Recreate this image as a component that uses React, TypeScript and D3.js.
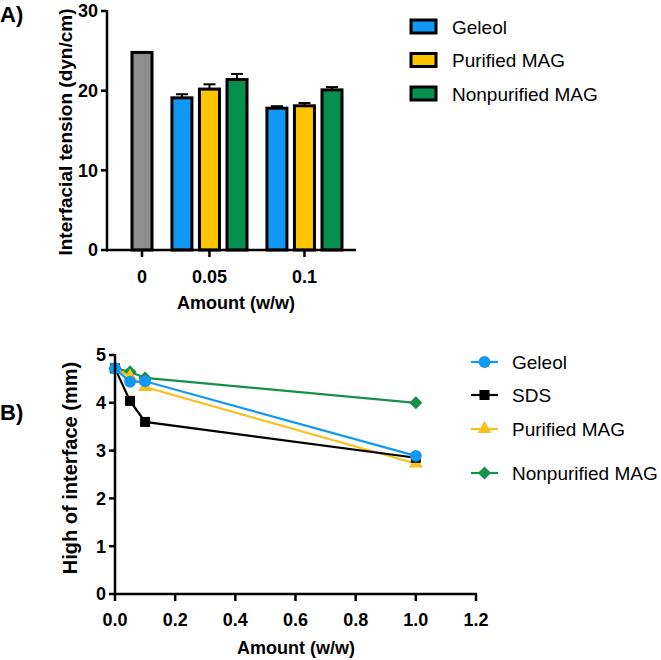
import React from "react";
import * as d3 from "d3";

// Panel A: interfacial tension (bars, mean + SD)
const tensionCategories = ["0", "0.05", "0.1"];
const blankTension = 24.8;
const blankTensionSd = 0;
const tensionSeries = ["Geleol", "Purified MAG", "Nonpurified MAG"];
const geleolTension = [19.1, 17.8];
const geleolTensionSd = [0.45, 0.25];
const purifiedTension = [20.2, 18.1];
const purifiedTensionSd = [0.6, 0.35];
const nonpurifiedTension = [21.4, 20.1];
const nonpurifiedTensionSd = [0.7, 0.35];
const tensionTicks = [0, 10, 20, 30];

// Panel B: height of interface vs amount
const amounts = [0, 0.05, 0.1, 1.0];
const lineSeries = ["Geleol", "SDS", "Purified MAG", "Nonpurified MAG"];
const geleolHeight = [4.72, 4.44, 4.45, 2.89];
const sdsHeight = [4.72, 4.04, 3.6, 2.85];
const purifiedHeight = [4.72, 4.55, 4.33, 2.73];
const nonpurifiedHeight = [4.72, 4.65, 4.52, 4.0];
const amountTicks = [0, 0.2, 0.4, 0.6, 0.8, 1.0, 1.2];
const heightTicks = [0, 1, 2, 3, 4, 5];

const BLUE = "#1197f4";
const YELLOW = "#ffc400";
const GREEN = "#05904f";
const GRAY = "#8e8e8e";
const FONT = "Arial, 'Liberation Sans', Helvetica, sans-serif";

const barColors = [BLUE, YELLOW, GREEN];
const lineColors = [BLUE, "#000000", "#f9bf1d", "#17904c"];
const lineShapes = [d3.symbolCircle, d3.symbolSquare, d3.symbolTriangle, d3.symbolDiamond2];
const lineSizes = [110, 100, 85, 110];

const PanelA = () => {
  const y = d3.scaleLinear().domain([0, 30]).range([250, 11]);
  // slot positions: blank bar, then two groups of three with a gap between groups
  const groupGap = 0.45;
  const slot = d3.scaleLinear().domain([0, 6.9]).range([142, 332]);
  const barW = 20;

  const groupMeans = [geleolTension, purifiedTension, nonpurifiedTension];
  const groupSds = [geleolTensionSd, purifiedTensionSd, nonpurifiedTensionSd];

  const bars = [{ s: 0, value: blankTension, sd: blankTensionSd, color: GRAY }];
  for (let g = 1; g < tensionCategories.length; g++) {
    tensionSeries.forEach((_, k) => {
      bars.push({
        s: (g - 1) * 3 + 1 + g * groupGap + k,
        value: groupMeans[k][g - 1],
        sd: groupSds[k][g - 1],
        color: barColors[k],
      });
    });
  }
  const catSlot = (i) => (i === 0 ? 0 : (i - 1) * 3 + 2 + i * groupGap);

  return (
    <g>
      <text x={0} y={22} fontSize={22} fontWeight="bold" fontFamily={FONT}>A)</text>
      {bars.map((b, i) => (
        <g key={i}>
          {b.sd > 0 && (
            <>
              <line x1={slot(b.s)} x2={slot(b.s)} y1={y(b.value)} y2={y(b.value + b.sd)} stroke="#000" strokeWidth={2} />
              <line x1={slot(b.s) - 6} x2={slot(b.s) + 6} y1={y(b.value + b.sd)} y2={y(b.value + b.sd)} stroke="#000" strokeWidth={2} />
            </>
          )}
          <rect
            x={slot(b.s) - barW / 2}
            y={y(b.value)}
            width={barW}
            height={y(0) - y(b.value)}
            fill={b.color}
            stroke="#000"
            strokeWidth={3}
          />
        </g>
      ))}
      {/* y axis */}
      <line x1={107} x2={107} y1={y(30) - 1} y2={y(0) + 1.5} stroke="#000" strokeWidth={2.5} />
      {tensionTicks.map((t) => (
        <g key={t}>
          <line x1={101} x2={107} y1={y(t)} y2={y(t)} stroke="#000" strokeWidth={2.5} />
          <text x={98} y={y(t)} dy="0.36em" textAnchor="end" fontSize={18} fontWeight="bold" fontFamily={FONT}>{t}</text>
        </g>
      ))}
      {/* x axis */}
      <line x1={106} x2={356} y1={y(0)} y2={y(0)} stroke="#000" strokeWidth={2.5} />
      {tensionCategories.map((c, i) => (
        <g key={c}>
          <line x1={slot(catSlot(i))} x2={slot(catSlot(i))} y1={y(0)} y2={y(0) + 7} stroke="#000" strokeWidth={2.5} />
          <text x={slot(catSlot(i))} y={277} dy="0.36em" textAnchor="middle" fontSize={18} fontWeight="bold" fontFamily={FONT}>{c}</text>
        </g>
      ))}
      <text x={236} y={303} dy="0.36em" textAnchor="middle" fontSize={18} fontWeight="bold" fontFamily={FONT}>Amount (w/w)</text>
      <text transform={`translate(65,132) rotate(-90)`} dy="0.36em" textAnchor="middle" fontSize={19} fontWeight="bold" fontFamily={FONT}>Interfacial tension (dyn/cm)</text>
      {/* legend */}
      {tensionSeries.map((s, k) => (
        <g key={s} transform={`translate(0,${27 + k * 33.5})`}>
          <rect x={411} y={-7} width={25} height={13} fill={barColors[k]} stroke="#000" strokeWidth={3} />
          <text x={452} y={0} dy="0.36em" fontSize={19} fontFamily={FONT}>{s}</text>
        </g>
      ))}
    </g>
  );
};

const PanelB = () => {
  const x = d3.scaleLinear().domain([0, 1.2]).range([115, 476]);
  const y = d3.scaleLinear().domain([0, 5]).range([594, 355]);
  const values = [geleolHeight, sdsHeight, purifiedHeight, nonpurifiedHeight];
  const line = d3.line().x((d) => x(d[0])).y((d) => y(d[1]));
  const order = [3, 2, 1, 0];
  const legendY = [362, 395, 429, 473];

  return (
    <g>
      <text x={0} y={420} fontSize={22} fontWeight="bold" fontFamily={FONT}>B)</text>
      {order.map((k) => {
        const pts = amounts.map((a, i) => [a, values[k][i]]);
        const sym = d3.symbol().type(lineShapes[k]).size(lineSizes[k]);
        return (
          <g key={k}>
            <path d={line(pts)} fill="none" stroke={lineColors[k]} strokeWidth={2.2} />
            {pts.map((p, i) => (
              <path key={i} d={sym()} transform={`translate(${x(p[0])},${y(p[1])})`} fill={lineColors[k]} />
            ))}
          </g>
        );
      })}
      {/* y axis */}
      <line x1={115} x2={115} y1={y(5) - 1} y2={y(0) + 1.5} stroke="#000" strokeWidth={2.5} />
      {heightTicks.map((t) => (
        <g key={t}>
          <line x1={109} x2={115} y1={y(t)} y2={y(t)} stroke="#000" strokeWidth={2.5} />
          <text x={106} y={y(t)} dy="0.36em" textAnchor="end" fontSize={18} fontWeight="bold" fontFamily={FONT}>{t}</text>
        </g>
      ))}
      {/* x axis */}
      <line x1={114} x2={x(1.2) + 1} y1={y(0)} y2={y(0)} stroke="#000" strokeWidth={2.5} />
      {amountTicks.map((t) => (
        <g key={t}>
          <line x1={x(t)} x2={x(t)} y1={y(0)} y2={y(0) + 7} stroke="#000" strokeWidth={2.5} />
          <text x={x(t)} y={620} dy="0.36em" textAnchor="middle" fontSize={18} fontWeight="bold" fontFamily={FONT}>{d3.format(".1f")(t)}</text>
        </g>
      ))}
      <text x={296} y={648} dy="0.36em" textAnchor="middle" fontSize={18} fontWeight="bold" fontFamily={FONT}>Amount (w/w)</text>
      <text transform={`translate(70,468) rotate(-90)`} dy="0.36em" textAnchor="middle" fontSize={20} fontWeight="bold" fontFamily={FONT}>High of interface (mm)</text>
      {/* legend */}
      {lineSeries.map((s, k) => {
        const sym = d3.symbol().type(lineShapes[k]).size(lineSizes[k]);
        return (
          <g key={s} transform={`translate(0,${legendY[k]})`}>
            <line x1={471} x2={498} y1={0} y2={0} stroke={lineColors[k]} strokeWidth={2.2} />
            <path d={sym()} transform="translate(484.5,0)" fill={lineColors[k]} />
            <text x={512} y={0} dy="0.36em" fontSize={19} fontFamily={FONT}>{s}</text>
          </g>
        );
      })}
    </g>
  );
};

export default function App() {
  return (
    <svg
      width={661}
      height={660}
      style={{ position: "absolute", left: 0, top: 0, background: "#fff" }}
    >
      <PanelA />
      <PanelB />
    </svg>
  );
}
